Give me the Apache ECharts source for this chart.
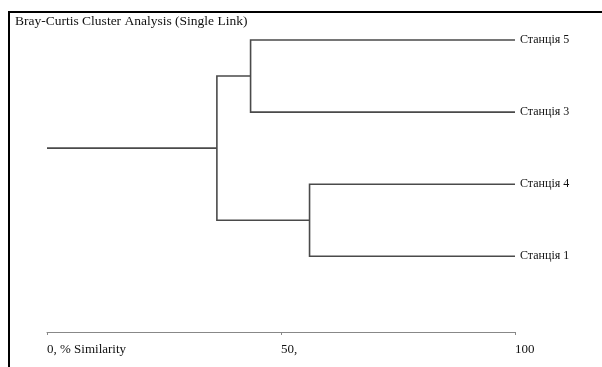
<!DOCTYPE html>
<html>
<head>
<meta charset="utf-8">
<script src="https://cdn.jsdelivr.net/npm/echarts@6/dist/echarts.min.js"></script>
<style>html,body{margin:0;padding:0;background:#fff;}#c{width:602px;height:367px;}</style>
</head>
<body>
<div id="c"></div>
<script>
// Leaves, top to bottom
var leaves = ['Станція 5', 'Станція 3', 'Станція 4', 'Станція 1'];
// Merges: [childA, childB, similarity %]; children < 4 are leaves, >= 4 are previous merges (4 + index)
var merges = [
  [0, 1, 43.5],
  [2, 3, 56.1],
  [4, 5, 36.3]
];
var rootStart = 0;
var tickValues = [0, 50, 100];
var tickLabels = ['0, % Similarity', '50,', '100'];

// build segments from the data
var nodes = leaves.map(function (n, i) { return { x: 100, y: i }; });
var segs = [];
merges.forEach(function (m) {
  var a = nodes[m[0]], b = nodes[m[1]], s = m[2];
  segs.push([[a.x, a.y], [s, a.y], [s, b.y], [b.x, b.y]]);
  nodes.push({ x: s, y: (a.y + b.y) / 2 });
});
var root = nodes[nodes.length - 1];
segs.push([[rootStart, root.y], [root.x, root.y]]);

var chart = echarts.init(document.getElementById('c'));
chart.setOption({
  animation: false,
  title: {
    text: 'Bray-Curtis Cluster Analysis (Single Link)',
    left: 15, top: 14, padding: 0,
    textStyle: { fontFamily: 'Liberation Serif', fontSize: 13.5, fontWeight: 'normal', color: '#111' }
  },
  grid: { left: 47, right: 87, top: 40, height: 292 },
  xAxis: {
    type: 'value', min: 0, max: 100, interval: 50, position: 'bottom',
    axisLine: { onZero: false, lineStyle: { color: '#888', width: 1 } },
    axisTick: { show: true, length: 3, lineStyle: { color: '#888' } },
    splitLine: { show: false },
    axisLabel: {
      margin: 11, align: 'left', color: '#111',
      fontFamily: 'Liberation Serif', fontSize: 13,
      formatter: function (v) { var i = tickValues.indexOf(v); return i >= 0 ? tickLabels[i] : ''; }
    }
  },
  yAxis: {
    type: 'value', min: 0, max: 4.05, inverse: true, position: 'right', interval: 1,
    axisLine: { show: false }, axisTick: { show: false }, splitLine: { show: false },
    axisLabel: {
      margin: 5, color: '#111', fontFamily: 'Liberation Serif', fontSize: 12,
      formatter: function (v) { return leaves[v] !== undefined && v === Math.round(v) ? leaves[v] : ''; }
    }
  },
  graphic: [
    { type: 'line', shape: { x1: 9, y1: 11, x2: 9, y2: 367 }, style: { stroke: '#000', lineWidth: 2 } },
    { type: 'line', shape: { x1: 8, y1: 12, x2: 602, y2: 12 }, style: { stroke: '#000', lineWidth: 2 } }
  ],
  series: [{
    type: 'custom',
    coordinateSystem: 'cartesian2d',
    data: segs.map(function (s, i) { return [i]; }),
    encode: { x: 0 },
    renderItem: function (params, api) {
      var pts = segs[params.dataIndex].map(function (p) { return api.coord(p); });
      return { type: 'polyline', shape: { points: pts }, style: { stroke: '#4a4a4a', lineWidth: 1.6, fill: null } };
    },
    silent: true
  }]
});
</script>
</body>
</html>
